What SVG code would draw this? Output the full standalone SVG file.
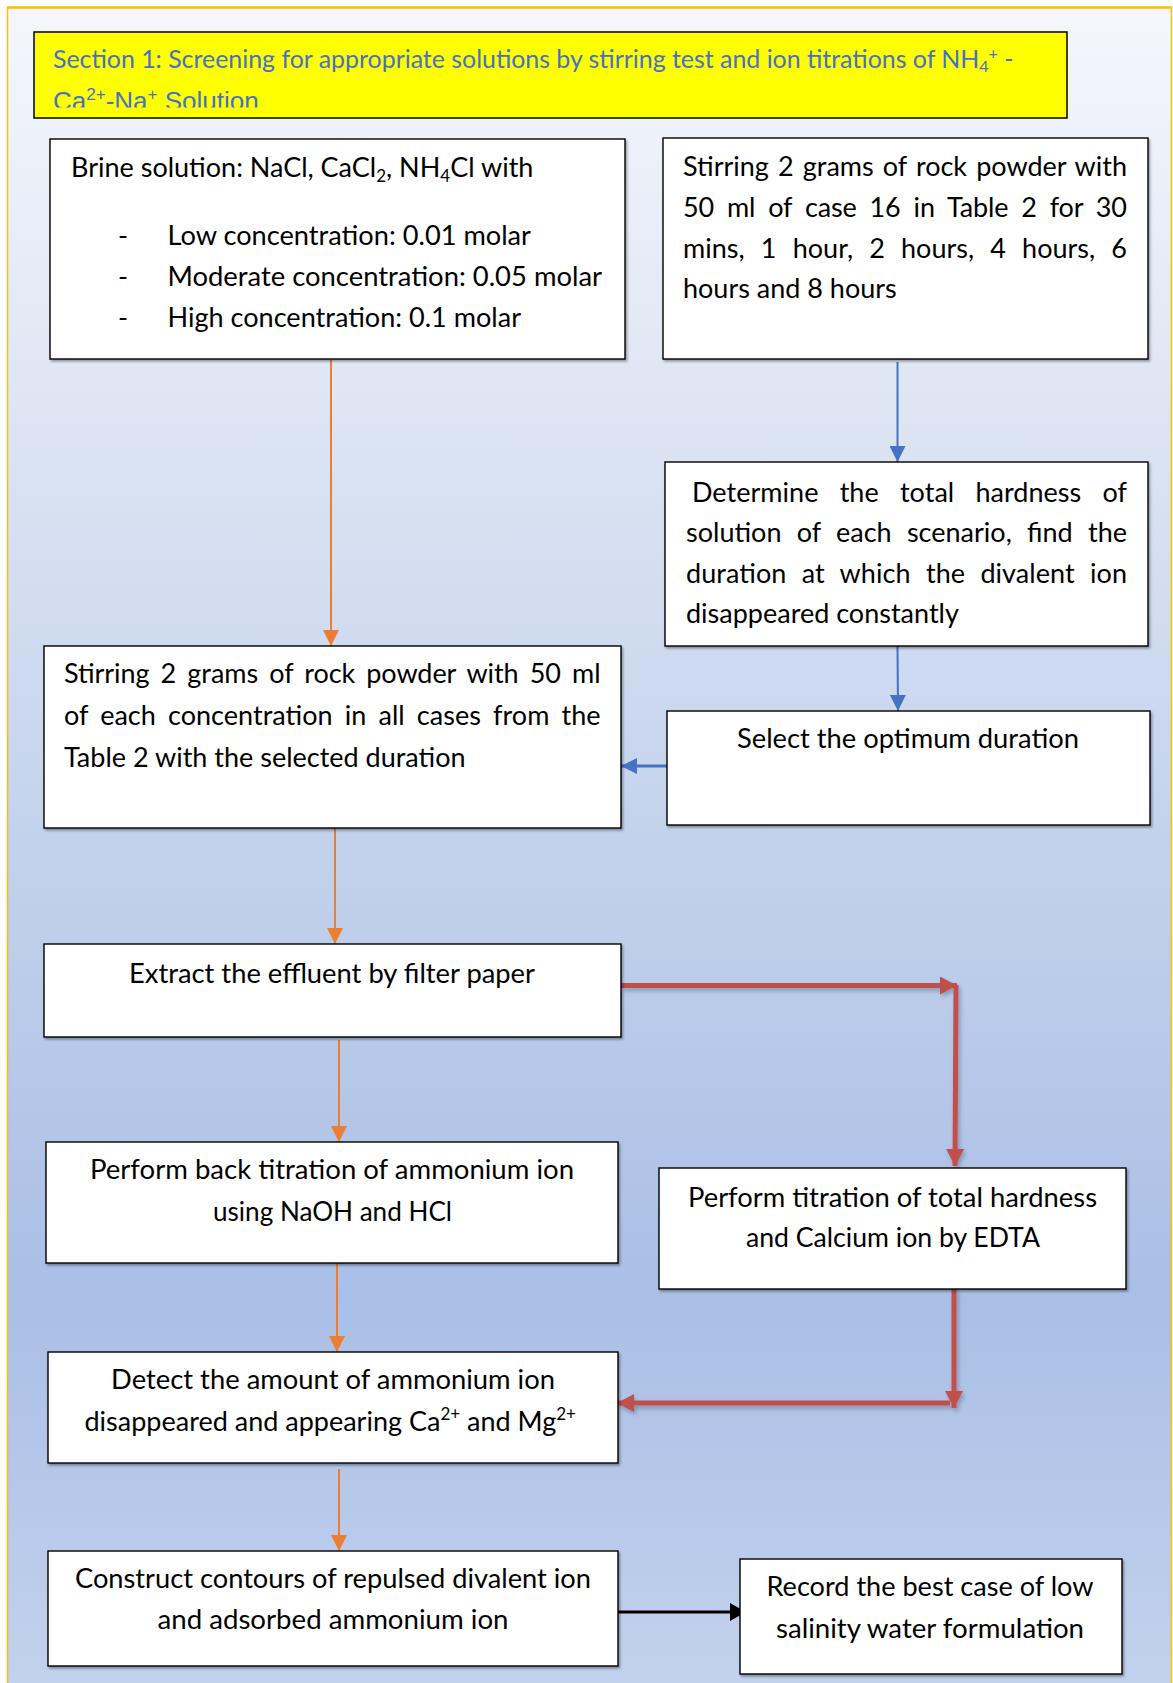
<svg xmlns="http://www.w3.org/2000/svg" width="1173" height="1683" viewBox="0 0 1173 1683">
<defs>
<linearGradient id="bg" x1="0" y1="0" x2="0" y2="1683" gradientUnits="userSpaceOnUse">
<stop offset="0" stop-color="#f5f7fc"/>
<stop offset="0.22" stop-color="#e0e7f4"/>
<stop offset="0.5" stop-color="#c3d2ec"/>
<stop offset="0.77" stop-color="#aabfe6"/>
<stop offset="1" stop-color="#c2d1ed"/>
</linearGradient>
<filter id="sh" x="-5%" y="-5%" width="110%" height="120%">
<feDropShadow dx="1.5" dy="2" stdDeviation="1.2" flood-color="#000" flood-opacity="0.35"/>
</filter>
<filter id="lsh" x="-10%" y="-10%" width="120%" height="120%">
<feDropShadow dx="2" dy="3" stdDeviation="2" flood-color="#000" flood-opacity="0.25"/>
</filter>
<clipPath id="titleClip"><rect x="34" y="32" width="1033" height="75.5"/></clipPath>
<marker id="aOrange" markerUnits="userSpaceOnUse" markerWidth="16" markerHeight="16" viewBox="0 0 16 16" refX="16" refY="8" orient="auto"><path d="M0,0 L16,8 L0,16 z" fill="#ed7d31"/></marker>
<marker id="aBlue" markerUnits="userSpaceOnUse" markerWidth="16" markerHeight="16" viewBox="0 0 16 16" refX="16" refY="8" orient="auto"><path d="M0,0 L16,8 L0,16 z" fill="#4472c4"/></marker>
<marker id="aRed" markerUnits="userSpaceOnUse" markerWidth="17" markerHeight="18" viewBox="0 0 17 18" refX="17" refY="9" orient="auto"><path d="M0,0 L17,9 L0,18 z" fill="#c0504d"/></marker>
<marker id="aBlack" markerUnits="userSpaceOnUse" markerWidth="16" markerHeight="18" viewBox="0 0 16 18" refX="16" refY="9" orient="auto"><path d="M0,0 L16,9 L0,18 z" fill="#000"/></marker>
</defs>
<style>
.box{fill:#fff;stroke:#000;stroke-width:1.4;filter:url(#sh)}
.t{font-family:Lato,"Liberation Sans",sans-serif;font-size:27px;fill:#000}
.c{text-anchor:middle}
.o{stroke:#ed7d31;stroke-width:2;fill:none;marker-end:url(#aOrange)}
.b{stroke:#4472c4;stroke-width:2;fill:none;marker-end:url(#aBlue)}
.r{stroke:#c0504d;stroke-width:5;fill:none;marker-end:url(#aRed)}
.k{stroke:#000;stroke-width:3;fill:none;marker-end:url(#aBlack)}
</style>
<rect x="0" y="0" width="1173" height="1683" fill="#fff"/>
<rect x="7.5" y="7.5" width="1164" height="1690" fill="url(#bg)"/>
<path d="M7.5,1683 L7.5,7.5 L1171.5,7.5 L1171.5,1683" fill="none" stroke="#ffc000" stroke-width="1.5"/>
<line x1="7" y1="7.5" x2="1172" y2="7.5" stroke="#ffc000" stroke-width="2.5"/>

<g id="title">
<rect x="34" y="32" width="1033" height="86" fill="#ffff00" stroke="#000" stroke-width="1.5"/>
<g clip-path="url(#titleClip)">
<text x="53" y="68" font-family="Lato,'Liberation Sans',sans-serif" font-size="24.9" fill="#4472c4">Section 1: Screening for appropriate solutions by stirring test and ion titrations of NH<tspan dy="4" font-size="16">4</tspan><tspan dy="-13" font-size="16">+</tspan><tspan dy="9"> -</tspan></text>
<text x="53" y="110" font-family="'Liberation Sans',Arial,sans-serif" font-size="26" fill="#4472c4">Ca<tspan font-size="17" dy="-10">2+</tspan><tspan dy="10">-Na</tspan><tspan font-size="17" dy="-10">+</tspan><tspan dy="10"> Solution</tspan></text>
</g>
</g>

<g id="connectors">
<path class="o" d="M331,360 L331,646"/>
<path class="b" d="M897.5,362 L897.5,462"/>
<path class="b" d="M897.5,646 L898,711"/>
<path class="b" d="M667,766 L621,766" style="stroke-width:3"/>
<path class="o" d="M335,828 L335,944"/>
<g filter="url(#lsh)">
<path class="r" d="M621,985.5 L957,985.5"/>
<path class="r" d="M956,985 L955,1166"/>
<path class="r" d="M954,1288 L954,1408"/>
<path class="r" d="M950,1403 L617,1403"/>
</g>
<path class="o" d="M339,1040 L339,1142"/>
<path class="o" d="M337,1263 L337,1352"/>
<path class="o" d="M339,1469 L339,1551"/>
<path class="k" d="M618,1612 L746,1612"/>
</g>

<g id="brine">
<rect class="box" x="50" y="139" width="575" height="220"/>
<text class="t" x="71" y="177" font-size="26">Brine solution: NaCl, CaCl<tspan font-size="17" dy="5">2</tspan><tspan dy="-5">, NH</tspan><tspan font-size="17" dy="5">4</tspan><tspan dy="-5">Cl with</tspan></text>
<text class="t" x="118" y="245">-</text>
<text class="t" x="118" y="286">-</text>
<text class="t" x="118" y="327">-</text>
<text class="t" x="167.5" y="245" textLength="363.5" lengthAdjust="spacingAndGlyphs">Low concentration: 0.01 molar</text>
<text class="t" x="167.5" y="286" textLength="434.5" lengthAdjust="spacingAndGlyphs">Moderate concentration: 0.05 molar</text>
<text class="t" x="167.5" y="327" textLength="353.5" lengthAdjust="spacingAndGlyphs">High concentration: 0.1 molar</text>
</g>

<g id="stir-time">
<rect class="box" x="663" y="138" width="485" height="221"/>
<text class="t" x="683" y="176" word-spacing="2.3" textLength="444" lengthAdjust="spacing">Stirring 2 grams of rock powder with</text>
<text class="t" x="683" y="217" word-spacing="6.2" textLength="444" lengthAdjust="spacing">50 ml of case 16 in Table 2 for 30</text>
<text class="t" x="683" y="258" word-spacing="9.2" textLength="444" lengthAdjust="spacing">mins, 1 hour, 2 hours, 4 hours, 6</text>
<text class="t" x="683" y="298">hours and 8 hours</text>
</g>

<g id="determine">
<rect class="box" x="665" y="462" width="483" height="184"/>
<text class="t" x="692" y="502" word-spacing="14.3" textLength="435" lengthAdjust="spacing">Determine the total hardness of</text>
<text class="t" x="686" y="542" word-spacing="8.3" textLength="441" lengthAdjust="spacing">solution of each scenario, find the</text>
<text class="t" x="686" y="583" word-spacing="8.3" textLength="441" lengthAdjust="spacing">duration at which the divalent ion</text>
<text class="t" x="686" y="623">disappeared constantly</text>
</g>

<g id="stir-all">
<rect class="box" x="44" y="646" width="577" height="182"/>
<text class="t" x="64" y="683" word-spacing="4.3" textLength="536.6" lengthAdjust="spacing">Stirring 2 grams of rock powder with 50 ml</text>
<text class="t" x="64" y="725" word-spacing="5.2" textLength="536.6" lengthAdjust="spacing">of each concentration in all cases from the</text>
<text class="t" x="64" y="766.5">Table 2 with the selected duration</text>
</g>

<g id="select">
<rect class="box" x="667" y="711" width="483" height="114"/>
<text class="t c" x="908" y="748" textLength="342" lengthAdjust="spacingAndGlyphs">Select the optimum duration</text>
</g>

<g id="extract">
<rect class="box" x="44" y="944" width="577" height="93"/>
<text class="t c" x="332" y="982.5" textLength="406" lengthAdjust="spacingAndGlyphs">Extract the effluent by filter paper</text>
</g>

<g id="back-titration">
<rect class="box" x="46" y="1142" width="572" height="121"/>
<text class="t c" x="332" y="1179" textLength="484" lengthAdjust="spacingAndGlyphs">Perform back titration of ammonium ion</text>
<text class="t c" x="332.5" y="1220.5" textLength="239" lengthAdjust="spacingAndGlyphs">using NaOH and HCl</text>
</g>

<g id="edta">
<rect class="box" x="659" y="1168" width="467" height="121"/>
<text class="t c" x="892.5" y="1206.5" textLength="409" lengthAdjust="spacingAndGlyphs">Perform titration of total hardness</text>
<text class="t c" x="893" y="1247" textLength="294" lengthAdjust="spacingAndGlyphs">and Calcium ion by EDTA</text>
</g>

<g id="detect">
<rect class="box" x="48" y="1352" width="570" height="111"/>
<text class="t c" x="333" y="1389" textLength="444" lengthAdjust="spacingAndGlyphs">Detect the amount of ammonium ion</text>
<text class="t" x="84.5" y="1430.5">disappeared and appearing Ca<tspan font-size="17" dy="-11">2+</tspan><tspan dy="11"> and Mg</tspan><tspan font-size="17" dy="-11">2+</tspan></text>
</g>

<g id="contours">
<rect class="box" x="48" y="1551" width="570" height="115"/>
<text class="t c" x="333" y="1587.5" textLength="516" lengthAdjust="spacingAndGlyphs">Construct contours of repulsed divalent ion</text>
<text class="t c" x="333" y="1629" textLength="351" lengthAdjust="spacingAndGlyphs">and adsorbed ammonium ion</text>
</g>

<g id="record">
<rect class="box" x="740" y="1559" width="382" height="115"/>
<text class="t c" x="930" y="1596" textLength="327" lengthAdjust="spacingAndGlyphs">Record the best case of low</text>
<text class="t c" x="930" y="1637.5" textLength="308" lengthAdjust="spacingAndGlyphs">salinity water formulation</text>
</g>
</svg>
